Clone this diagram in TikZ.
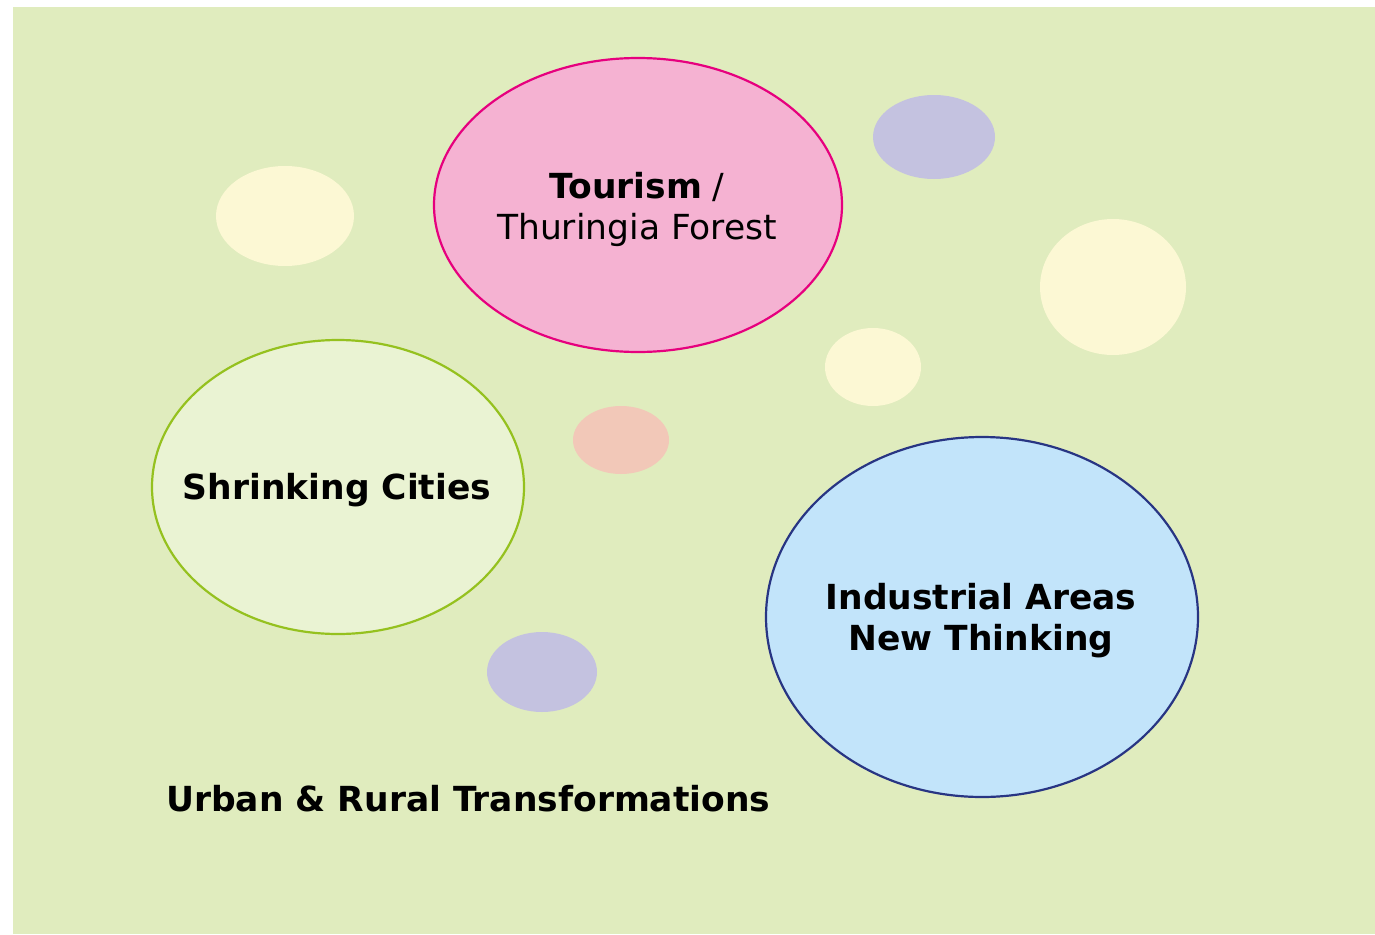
\documentclass[tikz,border=0pt]{standalone}
\usepackage{fontspec}
\setmainfont{DejaVu Sans}
\definecolor{bgc}{HTML}{E0ECBE}
\definecolor{pinkf}{HTML}{F5B2D2}
\definecolor{pinkd}{HTML}{E6007E}
\definecolor{greenf}{HTML}{EAF3D3}
\definecolor{greend}{HTML}{95C11F}
\definecolor{bluef}{HTML}{C2E4FA}
\definecolor{blued}{HTML}{283583}
\definecolor{yel}{HTML}{FCF8D4}
\definecolor{pur}{HTML}{C4C2E0}
\definecolor{sal}{HTML}{F2C8B8}
\begin{document}
\begin{tikzpicture}[x=1pt,y=-1pt,
  bigtext/.style={font=\fontsize{34.5}{41}\selectfont, align=center, inner sep=0pt}]
\useasboundingbox (0,0) rectangle (1375,934);
\fill[bgc] (13,7) rectangle (1375,934);
% small blobs
\fill[yel] (285,216) ellipse [x radius=69, y radius=50];
\fill[pur] (934,137) ellipse [x radius=61, y radius=42];
\fill[yel] (1113,287) ellipse [x radius=73, y radius=68];
\fill[yel] (873,367) ellipse [x radius=48, y radius=39];
\fill[sal] (621,440) ellipse [x radius=48, y radius=34];
\fill[pur] (542,672) ellipse [x radius=55, y radius=40];
% big ellipses
\draw[pinkd, fill=pinkf, line width=2.2pt] (638,205) ellipse [x radius=204, y radius=147];
\draw[greend, fill=greenf, line width=2.2pt] (338,487) ellipse [x radius=186, y radius=147];
\draw[blued, fill=bluef, line width=2.2pt] (982,617) ellipse [x radius=216, y radius=180];
\node[bigtext] (tour) at (637,209) {\textbf{Tourism} /\\Thuringia Forest};
\node[bigtext] (shr) at (337,490) {\textbf{Shrinking Cities}};
\node[bigtext] (ind) at (981,621) {\textbf{Industrial Areas}\\\textbf{New Thinking}};
\node[bigtext, anchor=west] (urb) at (166,799) {\textbf{Urban \& Rural Transformations}};
\end{tikzpicture}
\end{document}
